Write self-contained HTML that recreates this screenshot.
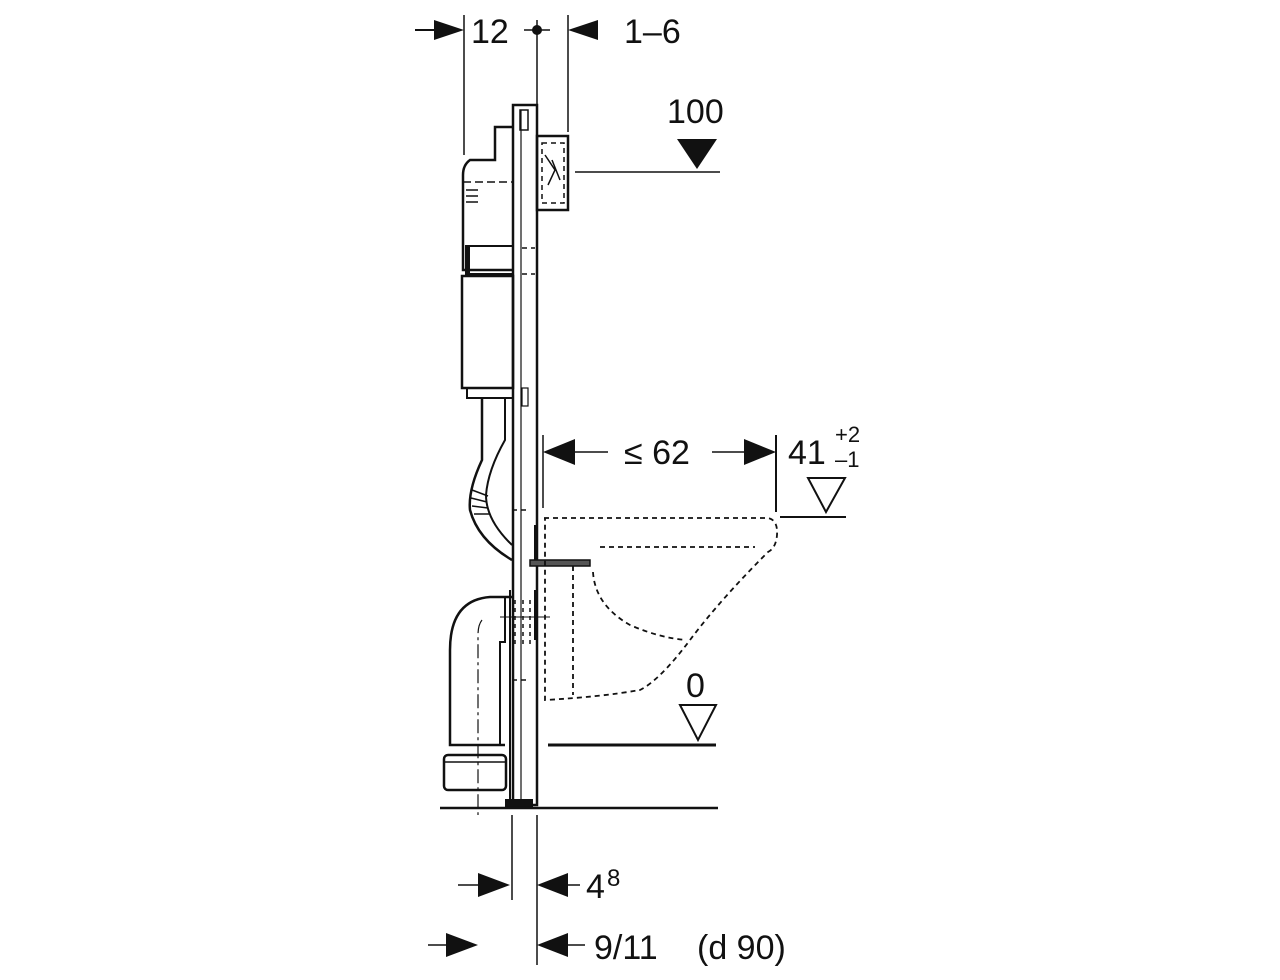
<!DOCTYPE html>
<html><head><meta charset="utf-8"><style>
html,body{margin:0;padding:0;background:#fff;}
svg{display:block}
text{font-family:"Liberation Sans",sans-serif;fill:#111}
</style></head><body>
<svg width="1280" height="980" viewBox="0 0 1280 980" xmlns="http://www.w3.org/2000/svg">
<g stroke="#111" fill="none" stroke-width="2">
<line x1="464" y1="15" x2="464" y2="155" stroke-width="1.5"/>
<line x1="568" y1="15" x2="568" y2="132" stroke-width="1.5"/>
<line x1="537" y1="20" x2="537" y2="105" stroke-width="1.5"/>
<line x1="415" y1="30" x2="440" y2="30"/>
<line x1="524" y1="30" x2="550" y2="30" stroke-width="1.5"/>
<rect x="513" y="105" width="24" height="700" stroke-width="2.5"/>
<line x1="521" y1="110" x2="521" y2="805" stroke-width="1.2"/>
<rect x="520" y="110" width="8" height="20" stroke-width="1.5"/>
<rect x="506" y="800" width="26" height="8" fill="#111"/>
<path d="M513 127 H495 V160 H470 Q463 165 463 175 V270 H513" stroke-width="2.5"/>
<line x1="463" y1="182" x2="513" y2="182" stroke-dasharray="8 4" stroke-width="1.5"/>
<line x1="466" y1="190" x2="478" y2="190" stroke-width="1.5"/>
<line x1="466" y1="196" x2="478" y2="196" stroke-width="1.5"/>
<line x1="466" y1="202" x2="478" y2="202" stroke-width="1.5"/>
<rect x="466" y="246" width="47" height="28" stroke-width="2"/>
<line x1="468" y1="246" x2="468" y2="274" stroke-width="4"/>
<rect x="462" y="276" width="51" height="112" stroke-width="2.5"/>
<path d="M467 388 V398 H513" stroke-width="2"/>
<path d="M522 248 H535 M522 274 H535" stroke-dasharray="5 4" stroke-width="1.5"/>
<rect x="522" y="388" width="6" height="18" stroke-width="1.2"/>
<rect x="537" y="136" width="31" height="74" stroke-width="2.5"/>
<rect x="542" y="143" width="22" height="60" stroke-dasharray="5 4" stroke-width="1.5"/>
<path d="M545 155 L555 170 L548 185 M552 160 L560 180" stroke-width="1.5"/>
<line x1="575" y1="172" x2="720" y2="172" stroke-width="1.5"/>
<path d="M482 398 V460 Q468 490 470 510 Q478 540 512 560" stroke-width="2.5"/>
<path d="M505 398 V440 Q488 470 486 495 Q486 520 512 545" stroke-width="2"/>
<path d="M472 490 L488 496 M471 498 L487 502 M472 506 L488 508 M474 514 L490 514" stroke-width="1.5"/>
<path d="M512 597 H490 Q450 600 450 650 V745 H505" stroke-width="2.5"/>
<path d="M505 597 V642 H500 V745" stroke-width="2"/>
<path d="M482 620 Q478 625 478 635 V815" stroke-width="1.2" stroke-dasharray="14 4 3 4"/>
<rect x="444" y="755" width="62" height="35" rx="4" stroke-width="2.5"/>
<line x1="444" y1="762" x2="506" y2="762" stroke-width="1.5"/>
<line x1="510" y1="590" x2="510" y2="805" stroke-width="2"/>
<path d="M515 600 V645 M523 600 V645 M530 600 V645" stroke-dasharray="4 4" stroke-width="1.5"/>
<line x1="536" y1="590" x2="536" y2="640" stroke-width="4"/>
<line x1="500" y1="617" x2="550" y2="617" stroke-width="1"/>
<path d="M512 510 H530 M512 680 H530" stroke-dasharray="5 4" stroke-width="1.5"/>
<rect x="530" y="560" width="60" height="6" stroke-width="1.5" fill="#555"/>
<line x1="536" y1="525" x2="536" y2="560" stroke-width="4"/>
<g stroke-dasharray="5 4" stroke-width="1.8">
<path d="M544 518 H768 Q778 520 777 535 Q776 548 768 552 Q720 600 690 640 Q660 680 640 690 Q600 697 545 700 V518"/>
<path d="M600 547 H755"/>
<path d="M593 572 Q595 605 630 625 Q660 638 686 640"/>
<path d="M573 566 V695"/>
</g>
<line x1="543" y1="435" x2="543" y2="508" stroke-width="1.5"/>
<line x1="776" y1="435" x2="776" y2="512" stroke-width="2"/>
<line x1="575" y1="452" x2="608" y2="452" stroke-width="1.5"/>
<line x1="712" y1="452" x2="745" y2="452" stroke-width="1.5"/>
<line x1="780" y1="517" x2="846" y2="517" stroke-width="2"/>
<path d="M808 478 H845 L826 512 Z" stroke-width="2"/>
<path d="M680 705 H716 L698 740 Z" stroke-width="2"/>
<line x1="548" y1="745" x2="716" y2="745" stroke-width="3"/>
<line x1="440" y1="808" x2="718" y2="808" stroke-width="2.5"/>
<line x1="512" y1="815" x2="512" y2="900" stroke-width="1.5"/>
<line x1="537" y1="815" x2="537" y2="965" stroke-width="1.5"/>
<line x1="458" y1="885" x2="480" y2="885" stroke-width="1.5"/>
<line x1="568" y1="885" x2="580" y2="885" stroke-width="1.5"/>
<line x1="428" y1="945" x2="448" y2="945" stroke-width="1.5"/>
<line x1="568" y1="945" x2="585" y2="945" stroke-width="1.5"/>
</g>
<g fill="#111">
<polygon points="464,30 434,20 434,40"/>
<polygon points="568,30 598,20 598,40"/>
<circle cx="537" cy="30" r="5"/>
<polygon points="677,139 717,139 697,169"/>
<polygon points="543,452 575,439 575,465"/>
<polygon points="776,452 744,439 744,465"/>
<polygon points="510,885 478,873 478,897"/>
<polygon points="537,885 568,873 568,897"/>
<polygon points="478,945 446,933 446,957"/>
<polygon points="537,945 568,933 568,957"/>
</g>
<text x="471" y="43" font-size="34">12</text>
<text x="624" y="43" font-size="34">1–6</text>
<text x="667" y="123" font-size="34">100</text>
<text x="624" y="464" font-size="34">≤ 62</text>
<text x="788" y="464" font-size="34">41</text>
<text x="835" y="442" font-size="22">+2</text>
<text x="835" y="467" font-size="22">–1</text>
<text x="686" y="697" font-size="34">0</text>
<text x="586" y="898" font-size="34">4</text>
<text x="607" y="886" font-size="24">8</text>
<text x="594" y="959" font-size="34">9/11</text>
<text x="697" y="959" font-size="34">(d 90)</text>
</svg>
</body></html>
